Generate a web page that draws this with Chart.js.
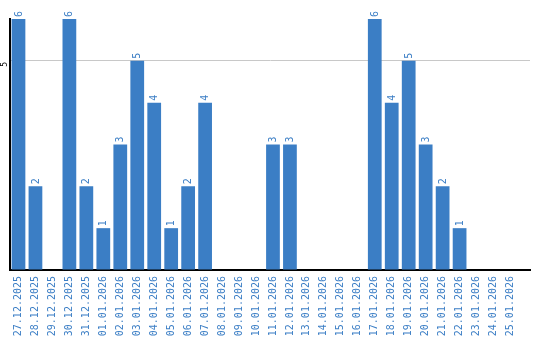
<!DOCTYPE html>
<html><head><meta charset="utf-8">
<script src="https://cdn.jsdelivr.net/npm/chart.js@4/dist/chart.umd.min.js"></script>
<style>html,body{margin:0;padding:0;background:#fff}#wrap{width:540px;height:340px}</style>
</head><body><div id="wrap"><canvas id="c" width="540" height="340"></canvas></div>
<script>
const categories = ["27.12.2025","28.12.2025","29.12.2025","30.12.2025","31.12.2025","01.01.2026","02.01.2026","03.01.2026","04.01.2026","05.01.2026","06.01.2026","07.01.2026","08.01.2026","09.01.2026","10.01.2026","11.01.2026","12.01.2026","13.01.2026","14.01.2026","15.01.2026","16.01.2026","17.01.2026","18.01.2026","19.01.2026","20.01.2026","21.01.2026","22.01.2026","23.01.2026","24.01.2026","25.01.2026"];
const values = [6,2,0,6,2,1,3,5,4,1,2,4,0,0,0,3,3,0,0,0,0,6,4,5,3,2,1,0,0,0];
const yTicks = [5];
const BLUE = '#3b7ec5';
const FONT = '"DejaVu Sans Mono"';

const points = values.map((v, i) => ({ x: i, y: v }));

const labelsPlugin = {
  id: 'labels',
  afterDatasetsDraw(chart) {
    const ctx = chart.ctx;
    const meta = chart.getDatasetMeta(0);
    ctx.save();
    ctx.font = '10px ' + FONT;
    ctx.fillStyle = BLUE;
    ctx.textAlign = 'left';
    ctx.textBaseline = 'middle';
    meta.data.forEach((bar, i) => {
      const v = values[i];
      if (!v) return;
      ctx.save();
      ctx.translate(bar.x + 0.5, bar.y - 2);
      ctx.rotate(-Math.PI / 2);
      ctx.fillText(String(v), 0, 0);
      ctx.restore();
    });
    const ys = chart.scales.y;
    ctx.fillStyle = '#000';
    ctx.font = '8px ' + FONT;
    ctx.textAlign = 'right';
    yTicks.forEach(t => {
      ctx.save();
      ctx.translate(4.5, ys.getPixelForValue(t) + 1);
      ctx.rotate(-Math.PI / 2);
      ctx.fillText(String(t), 0, 0);
      ctx.restore();
    });
    ctx.restore();
  }
};

new Chart(document.getElementById('c'), {
  type: 'bar',
  data: { datasets: [{ data: points, backgroundColor: BLUE, borderWidth: 0, barPercentage: 0.9, categoryPercentage: 0.9 }] },
  options: {
    responsive: false, animation: false,
    layout: { padding: { top: 19, right: 10, left: 0, bottom: 0 } },
    plugins: { legend: { display: false }, tooltip: { enabled: false } },
    scales: {
      x: {
        type: 'linear',
        min: -0.5, max: 30.15,
        offset: false,
        grid: { display: false, drawTicks: false, offset: false },
        border: { color: '#000', width: 2 },
        ticks: { color: BLUE, font: { family: 'DejaVu Sans Mono', size: 10 }, minRotation: 90, maxRotation: 90, padding: 6, autoSkip: false,
          callback: (v) => categories[v] !== undefined ? categories[v] : '' },
        afterBuildTicks(s) { s.ticks = categories.map((_, i) => ({ value: i })); },
        afterFit(s) { s.height = 70; }
      },
      y: {
        min: 0, max: 6,
        ticks: { display: false, stepSize: 5 },
        grid: { color: (c) => c.tick && c.tick.value === 5 ? '#c8c8c8' : 'rgba(0,0,0,0)', drawTicks: false },
        border: { color: '#000', width: 2 },
        afterFit(s) { s.width = 10; }
      }
    }
  },
  plugins: [labelsPlugin]
});
</script></body></html>
